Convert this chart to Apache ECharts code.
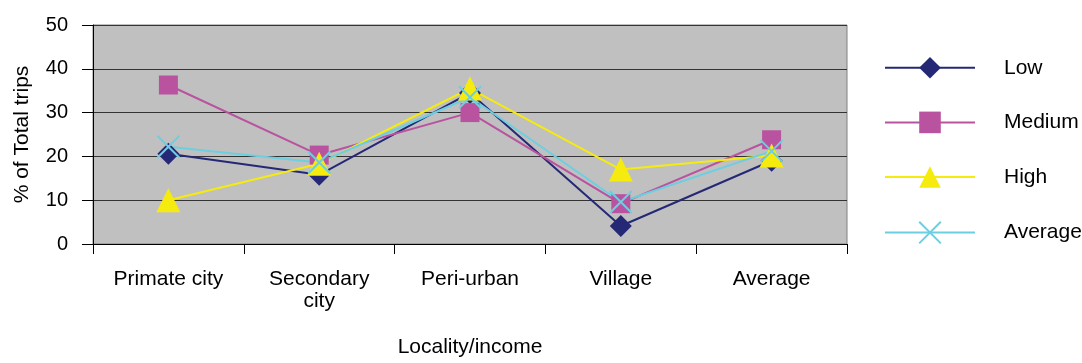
<!DOCTYPE html>
<html>
<head>
<meta charset="utf-8">
<script src="https://cdn.jsdelivr.net/npm/echarts@6/dist/echarts.min.js"></script>
<style>html,body{margin:0;padding:0;background:#fff;overflow:hidden}#c{width:1082px;height:363px}</style>
</head>
<body>
<div id="c"></div>
<script>
const categories = ['Primate city', 'Secondary\ncity', 'Peri-urban', 'Village', 'Average'];
const lowValues = [20.6, 15.8, 34.5, 4.1, 19.0];
const mediumValues = [36.3, 20.3, 30.0, 9.2, 23.8];
const highValues = [10.0, 18.3, 35.5, 17.0, 20.2];
const averageValues = [22.2, 18.6, 33.5, 9.6, 21.2];
const yTicks = { min: 0, max: 50, interval: 10 };

const font = 'Liberation Sans, Arial, sans-serif';
const chart = echarts.init(document.getElementById('c'));
function mk(name, data, color, symbol, size, extra) {
  return Object.assign({
    name, type: 'line', data, symbol, symbolSize: size,
    lineStyle: { color, width: 2 },
    itemStyle: { color },
    emphasis: { disabled: true }, animation: false
  }, extra || {});
}
chart.setOption({
  animation: false,
  textStyle: { fontFamily: font },
  grid: { left: 93, width: 754, top: 25, height: 224, show: true, backgroundColor: '#C0C0C0', borderColor: '#808080', borderWidth: 1 },
  legend: {
    orient: 'vertical', left: 884, top: 57, padding: 0,
    itemWidth: 90, itemHeight: 27, itemGap: 33,
    textStyle: { fontSize: 21, color: '#000', fontFamily: font, padding: [0, 0, 0, 24] },
    data: ['Low', 'Medium', 'High', { name: 'Average', itemStyle: { borderColor: '#6CCFE0', borderWidth: 2 } }]
  },
  xAxis: {
    type: 'category', data: categories, boundaryGap: true,
    name: 'Locality/income', nameLocation: 'middle', nameGap: 93,
    nameTextStyle: { fontSize: 21, color: '#000', fontFamily: font },
    axisLine: { lineStyle: { color: '#000', width: 1 } },
    axisTick: { show: true, length: 10, lineStyle: { color: '#000' } },
    axisLabel: { fontSize: 21, color: '#000', margin: 24, lineHeight: 22, interval: 0, fontFamily: font },
    splitLine: { show: false }
  },
  yAxis: {
    type: 'value', min: yTicks.min, max: yTicks.max, interval: yTicks.interval,
    name: '% of Total trips', nameLocation: 'middle', nameGap: 60, nameRotate: 90,
    nameTextStyle: { fontSize: 21, color: '#000', fontFamily: font },
    axisLine: { show: true, lineStyle: { color: '#000', width: 1 } },
    axisTick: { show: true, length: 11, lineStyle: { color: '#000' } },
    axisLabel: { fontSize: 20, color: '#000', margin: 25, fontFamily: font },
    splitLine: { show: true, lineStyle: { color: '#333', width: 1 } }
  },
  series: [
    mk('Low', lowValues, '#252875', 'diamond', 22),
    mk('Medium', mediumValues, '#B9529F', 'rect', 19),
    mk('High', highValues, '#F5EB0F', 'triangle', 24),
    mk('Average', averageValues, '#6CCFE0', 'path://M0,0L20,20M20,0L0,20', 22, { itemStyle: { color: '#6CCFE0', borderColor: '#6CCFE0', borderWidth: 2 } })
  ]
});
</script>
</body>
</html>
